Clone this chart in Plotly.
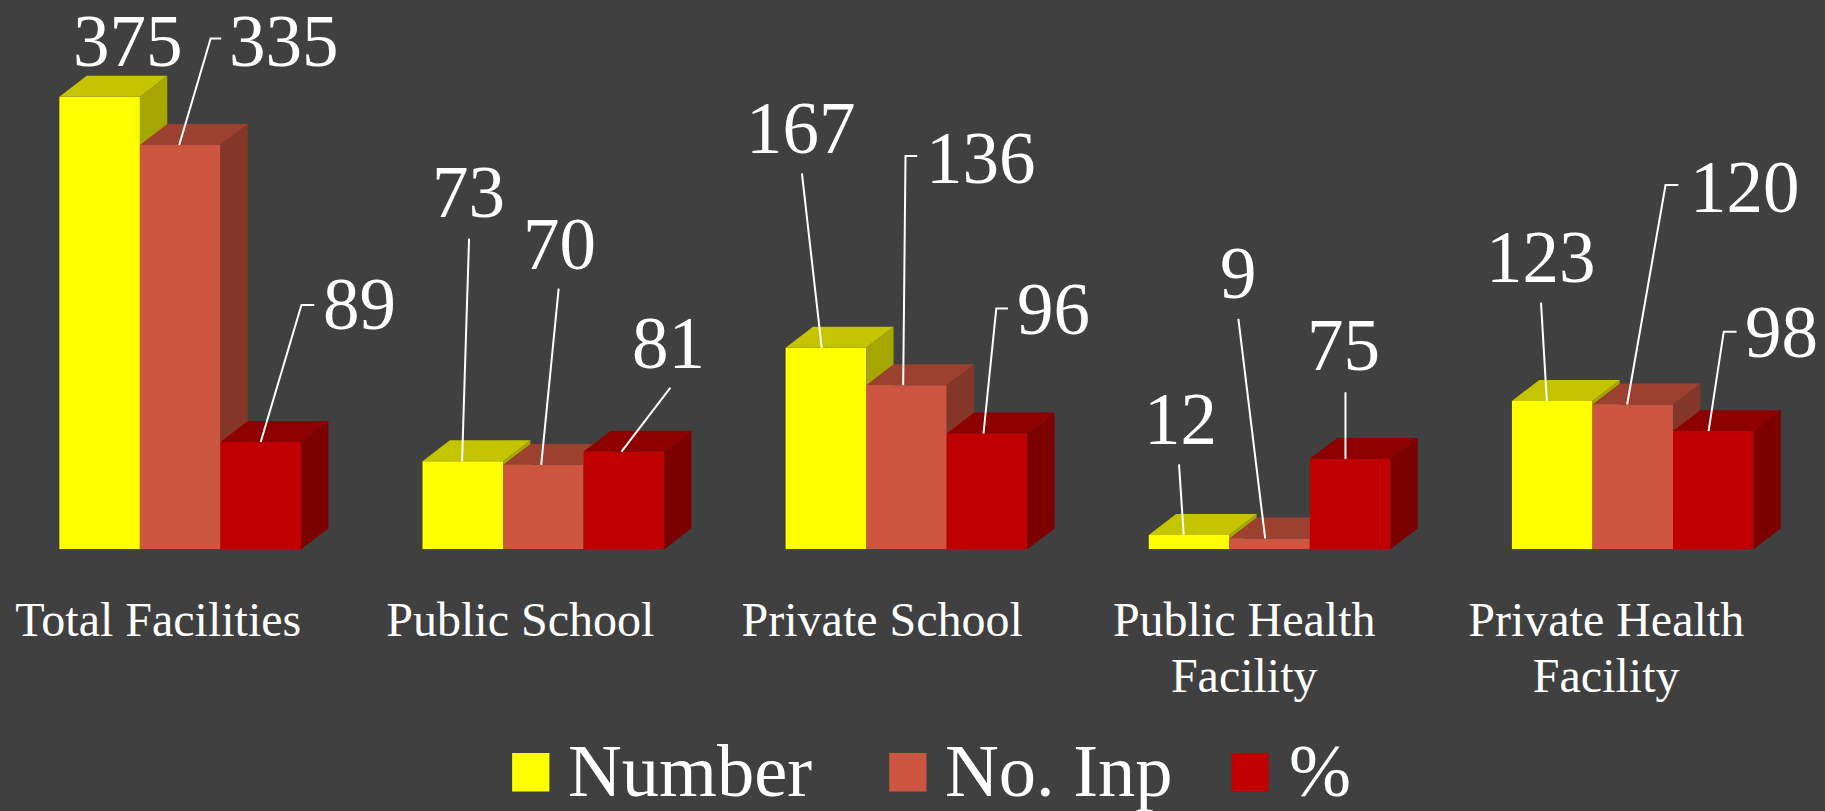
import plotly.graph_objects as go

# ---- data ----
categories = ["Total Facilities", "Public School", "Private School",
              "Public Health<br>Facility", "Private Health<br>Facility"]
number = [375, 73, 167, 12, 123]
no_inp = [335, 70, 136, 9, 120]
percent = [89, 81, 96, 75, 98]
series_names = ["Number", "No. Inp", "%"]

# ---- styling and layout ----
W, H = 1825, 811
S = 1825 / 1568          # reference-view px -> page px
BG = "#404040"
FONT = "Liberation Serif"
FRONT = ["#FFFF00", "#CD5640", "#C00000"]
TOP = ["#C4C400", "#9C4030", "#8E0000"]
SIDE = ["#A6A600", "#843628", "#7C0000"]

BASE_PX = 472 * S
PX_PER_UNIT = 1.207
GROUP_PX = 312 * S
BAR_PX = 69.2 * S
X0_PX = 51 * S + 1.5 * BAR_PX   # page x of first group's centre
DX_PX, DY_PX = 23.5 * S, 18 * S


def xd(px):
    return (px - X0_PX) / GROUP_PX


def yd(px):
    return (BASE_PX - px) / PX_PER_UNIT


BAR_W = BAR_PX / GROUP_PX
DX = DX_PX / GROUP_PX
DY = DY_PX / PX_PER_UNIT
X_RANGE = [xd(0), xd(W)]
Y_RANGE = [0, yd(0)]
Y_DOMAIN = [(H - BASE_PX) / H, 1]

fig = go.Figure()
for s, (name, vals) in enumerate(zip(series_names, [number, no_inp, percent])):
    suffix = "" if s == 0 else str(s + 1)
    centers = [i + (s - 1) * BAR_W for i in range(len(vals))]
    side_x, side_y, top_x, top_y = [], [], [], []
    for c, v in zip(centers, vals):
        l, r = c - BAR_W / 2, c + BAR_W / 2
        side_x += [r, r + DX, r + DX, r, r, None]
        side_y += [0, DY, v + DY, v, 0, None]
        top_x += [l, l + DX, r + DX, r, l, None]
        top_y += [v, v + DY, v + DY, v, v, None]
    for xs, ys, col in [(side_x, side_y, SIDE[s]), (top_x, top_y, TOP[s])]:
        fig.add_trace(go.Scatter(x=xs, y=ys, mode="lines", fill="toself",
                                 fillcolor=col, line=dict(width=0), hoverinfo="skip",
                                 showlegend=False, xaxis="x" + suffix, yaxis="y" + suffix))
    fig.add_trace(go.Bar(x=centers, y=vals, width=BAR_W, name=name,
                         marker=dict(color=FRONT[s], line=dict(width=0)),
                         showlegend=False, xaxis="x" + suffix, yaxis="y" + suffix))

# ---- data labels: (series, group, label centre x, label centre y, leader x at bar, waypoints) ----
LABELS = [
    (0, 0, 110, 36, None, []),
    (1, 0, 244, 36, 154, [(181, 33), (190, 33)]),
    (2, 0, 309, 262, 224, [(259, 262), (270, 262)]),
    (0, 1, 402.5, 165, 397, [(403, 205)]),
    (1, 1, 481, 210, 465, [(480, 248)]),
    (2, 1, 574, 295, 534, [(576, 333)]),
    (0, 2, 688, 110, 706, [(689, 149)]),
    (1, 2, 843, 136, 776, [(778, 134), (788, 134)]),
    (2, 2, 905.5, 266, 845, [(856, 265), (866, 265)]),
    (0, 3, 1014, 360, 1017, [(1013, 399)]),
    (1, 3, 1064, 235, 1087, [(1064, 274)]),
    (2, 3, 1154.5, 297, 1156, [(1156, 337)]),
    (0, 4, 1324, 221, 1329, [(1324, 260)]),
    (1, 4, 1499, 161, 1398, [(1431, 159), (1442, 159)]),
    (2, 4, 1531, 286, 1468, [(1481, 285), (1492, 285)]),
]
all_vals = [number, no_inp, percent]
annotations = []
lx, ly = [], []
for s, g, tx, ty, ax, way in LABELS:
    v = all_vals[s][g]
    annotations.append(dict(x=xd(tx * S), y=yd(ty * S), xref="x", yref="y", text=str(v),
                            showarrow=False, xanchor="center", yanchor="middle",
                            font=dict(family=FONT, size=73, color="white")))
    if ax is not None:
        lx += [xd(ax * S)] + [xd(p[0] * S) for p in way] + [None]
        ly += [v] + [yd(p[1] * S) for p in way] + [None]
fig.add_trace(go.Scatter(x=lx, y=ly, mode="lines", line=dict(color="white", width=2),
                         hoverinfo="skip", showlegend=False, xaxis="x3", yaxis="y3"))

# ---- legend ----
LEGEND_ITEMS = [(440, 486), (764, 810), (1058, 1106)]
shapes = []
for (sw, tx), name, col in zip(LEGEND_ITEMS, series_names, FRONT):
    shapes.append(dict(type="rect", xref="paper", yref="paper", line=dict(width=0), fillcolor=col,
                       x0=sw * S / W, x1=(sw + 32) * S / W,
                       y0=1 - 680 * S / H, y1=1 - 647 * S / H))
    annotations.append(dict(x=tx * S / W, y=1 - 662.5 * S / H, xref="paper", yref="paper", text=name,
                            showarrow=False, xanchor="left", yanchor="middle",
                            font=dict(family=FONT, size=74.5, color="white")))

TICK_SIZE = 48
ticktext = ['<span style="font-size:%spx">%s</span>' % (TICK_SIZE, c.replace("<br>", '</span><br><span style="font-size:%spx">' % TICK_SIZE))
            for c in categories]
tickvals = [(136 + 311 * i) * S for i in range(len(categories))]
tickvals = [xd(p) for p in tickvals]

hidden = dict(visible=False, showgrid=False, zeroline=False)
fig.update_layout(
    width=W, height=H, margin=dict(l=0, r=0, t=0, b=0, pad=0),
    paper_bgcolor=BG, plot_bgcolor=BG, showlegend=False, barmode="overlay",
    font=dict(family=FONT, color="white"),
    xaxis=dict(range=X_RANGE, tickmode="array", tickvals=tickvals, ticktext=ticktext,
               showgrid=False, zeroline=False, showline=False, ticks="outside",
               ticklen=34, tickcolor="rgba(0,0,0,0)", tickwidth=0,
               tickfont=dict(family=FONT, size=43, color="white"), tickangle=0,
               automargin=False, fixedrange=True),
    yaxis=dict(range=Y_RANGE, domain=Y_DOMAIN, **hidden),
    xaxis2=dict(range=X_RANGE, overlaying="x", anchor="y2", **hidden),
    yaxis2=dict(range=Y_RANGE, domain=Y_DOMAIN, overlaying="y", anchor="x2", **hidden),
    xaxis3=dict(range=X_RANGE, overlaying="x", anchor="y3", **hidden),
    yaxis3=dict(range=Y_RANGE, domain=Y_DOMAIN, overlaying="y", anchor="x3", **hidden),
    annotations=annotations, shapes=shapes,
)

fig.write_html("out.html", config={"displayModeBar": False},
               post_script="document.body.style.margin='0';document.body.style.background='%s';" % BG)
